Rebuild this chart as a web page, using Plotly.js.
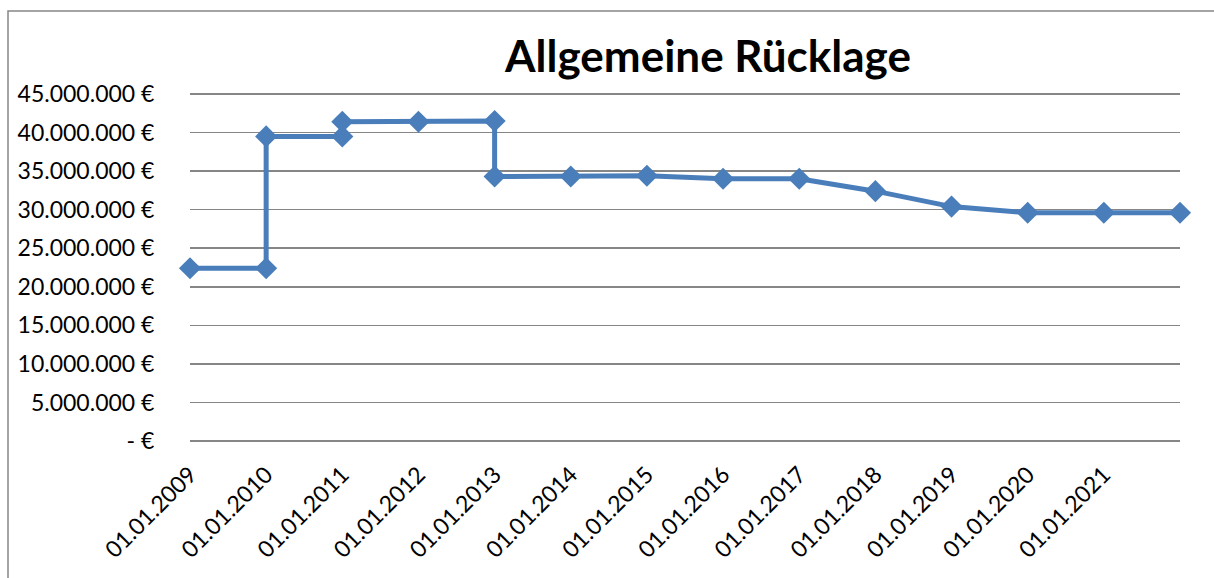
<!DOCTYPE html>
<html>
<head>
<meta charset="utf-8">
<script src="https://cdn.plot.ly/plotly-3.0.1.min.js"></script>
<style>html,body{margin:0;padding:0;background:#fff;}#chart{width:1214px;height:578px;}</style>
</head>
<body>
<div id="chart"></div>
<script>
// Data (duplicate years give the step changes)
const years = [2009, 2010, 2010, 2011, 2011, 2012, 2013, 2013, 2014, 2015, 2016, 2017, 2018, 2019, 2020, 2021, 2022];
const values = [22400000, 22400000, 39500000, 39500000, 41400000, 41400000, 41500000, 34300000, 34300000, 34400000, 34000000, 34000000, 32400000, 30400000, 29600000, 29600000, 29600000];
const tickYears = [2009, 2010, 2011, 2012, 2013, 2014, 2015, 2016, 2017, 2018, 2019, 2020, 2021];
const tickLabels = ["01.01.2009", "01.01.2010", "01.01.2011", "01.01.2012", "01.01.2013", "01.01.2014", "01.01.2015", "01.01.2016", "01.01.2017", "01.01.2018", "01.01.2019", "01.01.2020", "01.01.2021"];
const yTickVals = [0, 5000000, 10000000, 15000000, 20000000, 25000000, 30000000, 35000000, 40000000, 45000000];
const yTickText = ["- €", "5.000.000 €", "10.000.000 €", "15.000.000 €", "20.000.000 €", "25.000.000 €", "30.000.000 €", "35.000.000 €", "40.000.000 €", "45.000.000 €"];

const FONT = "Lato, 'Open Sans', sans-serif";
const trace = {
  x: years, y: values, type: 'scatter', mode: 'lines+markers',
  line: {color: '#4A7EBB', width: 5},
  marker: {symbol: 'diamond', size: 17, color: '#4A7EBB'},
  cliponaxis: false,
  hoverinfo: 'x+y'
};
const layout = {
  width: 1214, height: 578,
  margin: {l: 190, r: 34, t: 92, b: 135},
  paper_bgcolor: '#ffffff', plot_bgcolor: '#ffffff',
  showlegend: false,
  font: {family: FONT, size: 23, color: '#000'},
  title: {text: '<b>Allgemeine Rücklage</b>', font: {family: FONT, size: 44, color: '#000'},
          x: 708/1214, xref: 'container', xanchor: 'center', y: 1 - 57/578, yref: 'container', yanchor: 'middle'},
  xaxis: {range: [2009, 2022], tickvals: tickYears, ticktext: tickLabels, tickangle: -45,
          showgrid: false, zeroline: false, showline: false, ticks: 'outside', ticklen: 8, tickcolor: 'rgba(0,0,0,0)',
          tickfont: {family: FONT, size: 23, color: '#000'}},
  yaxis: {range: [-260000, 45260000], tickvals: yTickVals, ticktext: yTickText,
          showgrid: true, gridcolor: '#868686', gridwidth: 1.5, zeroline: false, showline: false,
          ticks: 'outside', ticklen: 30, tickcolor: 'rgba(0,0,0,0)',
          tickfont: {family: FONT, size: 23, color: '#000'}},
  shapes: [{type: 'rect', xref: 'paper', yref: 'paper', x0: -182/990, x1: 1.06, y0: -0.5, y1: (578-11-135)/351,
            line: {color: '#868686', width: 1.5}, fillcolor: 'rgba(0,0,0,0)', layer: 'below'}]
};
Plotly.newPlot('chart', [trace], layout, {displayModeBar: false, staticPlot: true});
</script>
</body>
</html>
